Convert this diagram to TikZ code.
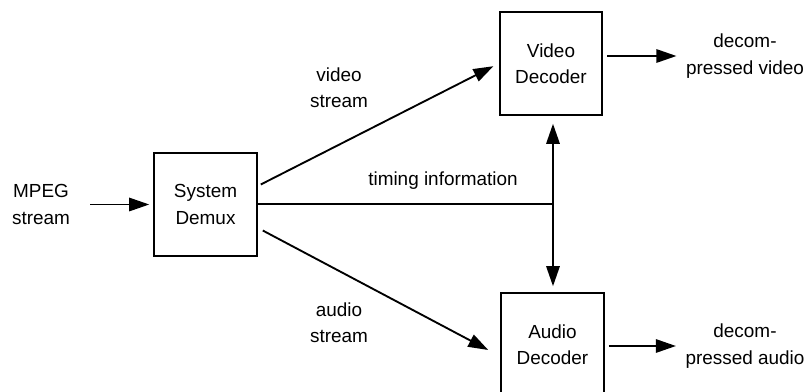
\documentclass[tikz,border=0pt]{standalone}
\usepackage{fontspec}
\setmainfont{Liberation Sans}
\usepackage{tikz}
\usetikzlibrary{arrows.meta, positioning, calc}

\begin{document}
\begin{tikzpicture}[x=0.75pt, y=-0.75pt,
  blk/.style={draw, line width=1.4pt, minimum width=77pt, minimum height=77pt, align=center, font=\fontsize{14.2}{19.8}\selectfont},
  lbl/.style={align=center, inner sep=1pt, font=\fontsize{14.2}{19.8}\selectfont},
  arr/.style={line width=1.4pt, -{Triangle[length=15pt, width=10pt]}},
  ln/.style={line width=1.4pt}]
\clip (0,0) rectangle (808,392);
\node[blk] (demux) at (205.5,204.5) {System\\Demux};
\node[blk] (vdec) at (551,63.5) {Video\\Decoder};
\node[blk] (adec) at (552.5,344.5) {Audio\\Decoder};
\node[lbl] (mpeg) at (41,204.5) {MPEG\\stream};
\node[lbl] (dvid) at (745,56) {decom-\\pressed video};
\node[lbl] (daud) at (745,346) {decom-\\pressed audio};
\node[lbl] (vlab) at (339,88) {video\\stream};
\node[lbl] (alab) at (339,323) {audio\\stream};
\node[lbl] (tlab) at (443,181) {timing information};
\coordinate (tj) at (553,204);
\coordinate (vs) at ($(demux.east)+(3,-20)$);
\coordinate (as) at ($(demux.east)+(5,26)$);
\draw[arr, shorten <=14pt, shorten >=3pt] (mpeg.east) -- (demux.west);
\draw[arr, shorten >=4.5pt] (vs) -- (vdec.west);
\draw[arr] (as) -- ($(adec.west)+(-12,5.5)$);
\draw[ln] (demux.east |- tj) -- (tj);
\draw[arr, shorten >=6pt] (tj) -- (vdec.south -| tj);
\draw[arr, shorten >=4.5pt] (tj) -- (adec.north -| tj);
\draw[arr, shorten <=3pt, shorten >=6pt] (vdec.east |- dvid.west) -- (dvid.west);
\draw[arr, shorten <=3pt, shorten >=6pt] (adec.east |- daud.west) -- (daud.west);
\end{tikzpicture}
\end{document}
